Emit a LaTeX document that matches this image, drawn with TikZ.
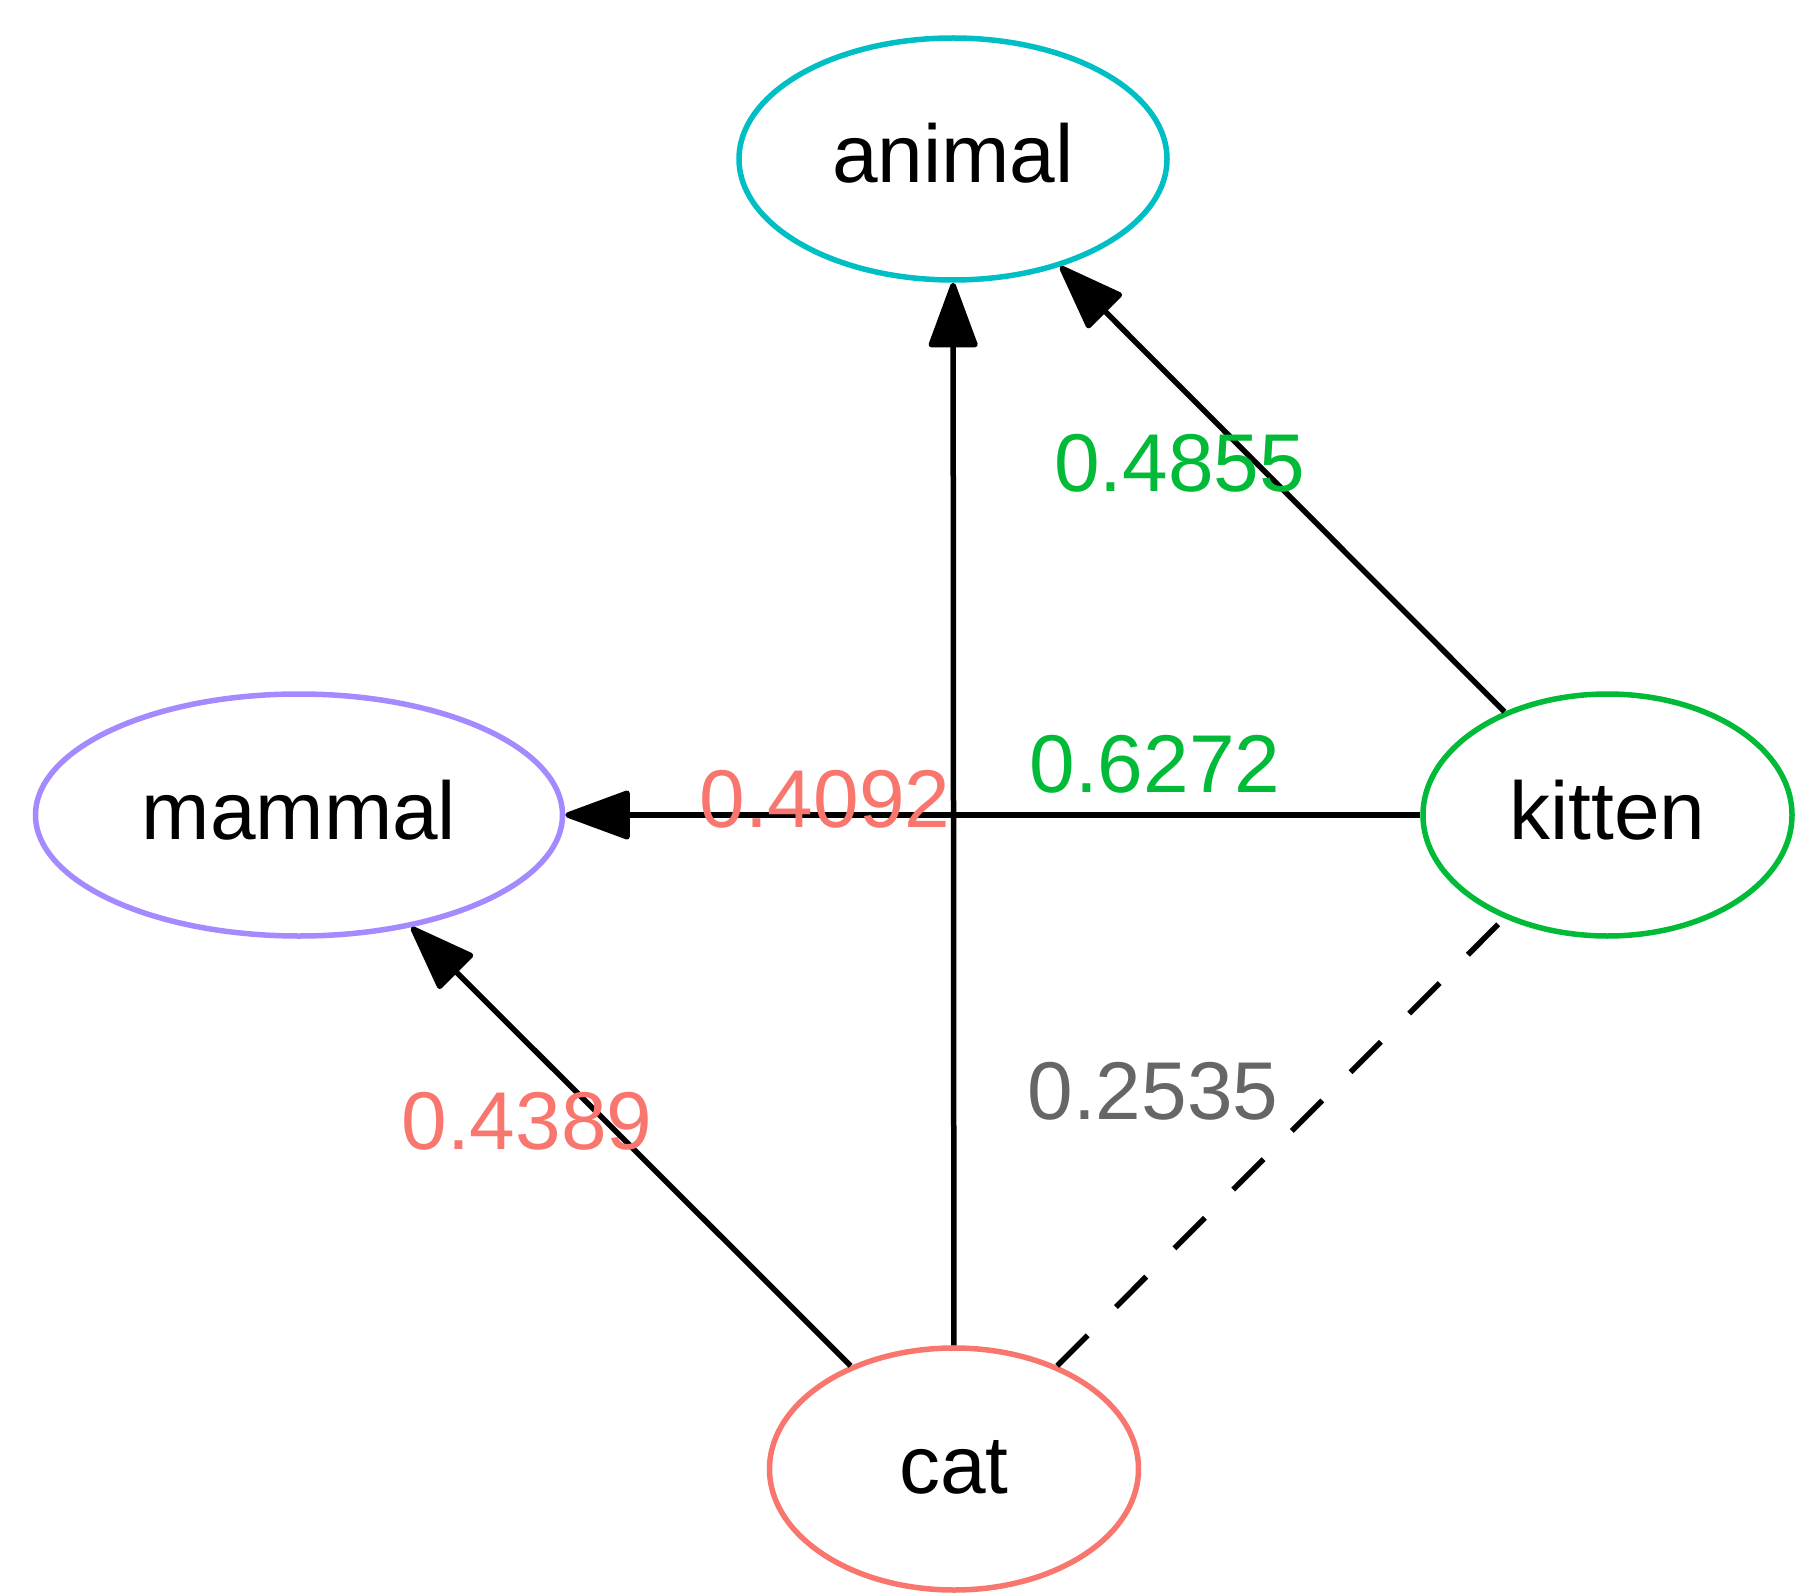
\documentclass[tikz,border=0pt]{standalone}
\usepackage{fontspec}
\setmainfont{Liberation Sans}
\usetikzlibrary{arrows.meta,shapes.geometric}
\definecolor{cAnimal}{HTML}{00BFC4}
\definecolor{cMammal}{HTML}{A58AFF}
\definecolor{cKitten}{HTML}{00BA38}
\definecolor{cCat}{HTML}{F8766D}
\definecolor{cGray}{HTML}{666666}
\tikzset{
  bigfont/.style={font=\fontsize{82pt}{98pt}\selectfont},
  vertex/.style={ellipse, draw, line width=5.5pt, inner sep=0pt, bigfont,
    text height=48pt, text depth=0pt, minimum height=242pt},
  edge/.style={line width=5.5pt, -{Triangle[length=70pt,width=50pt,round]}},
  dashedge/.style={line width=5.5pt, dash pattern=on 43pt off 40pt},
  wlabel/.style={inner sep=0pt, bigfont}
}
\begin{document}
\begin{tikzpicture}[x=1pt,y=-1pt]
\useasboundingbox (0,0) rectangle (1797,1594);
\node[vertex, draw=cAnimal, minimum width=428pt] (animal) at (953,159) {animal};
\node[vertex, draw=cMammal, minimum width=527pt] (mammal) at (299,815) {mammal};
\node[vertex, draw=cKitten, minimum width=369pt] (kitten) at (1607.5,815) {kitten};
\node[vertex, draw=cCat, minimum width=369pt] (cat) at (954,1469) {cat};
\draw[edge] (cat) -- (animal);
\draw[edge] (cat) -- (mammal);
\draw[edge] (kitten) -- (animal);
\draw[edge] (kitten) -- (mammal);
\draw[dashedge] (cat) -- (kitten);
\node[wlabel, text=cKitten] (l1) at (1179.5,463) {0.4855};
\node[wlabel, text=cKitten] (l2) at (1155,764) {0.6272};
\node[wlabel, text=cCat] (l3) at (825,799) {0.4092};
\node[wlabel, text=cCat] (l4) at (527,1121) {0.4389};
\node[wlabel, text=cGray] (l5) at (1153,1091) {0.2535};
\end{tikzpicture}
\end{document}
